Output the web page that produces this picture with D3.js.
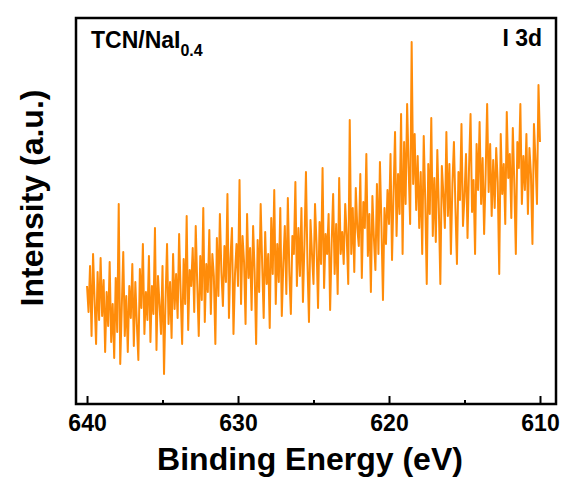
<!DOCTYPE html>
<html>
<head>
<meta charset="utf-8">
<script src="https://cdn.jsdelivr.net/npm/d3@7"></script>
<style>
  body { margin: 0; background: #fff; }
  text { font-family: "Liberation Sans", Arial, sans-serif; font-weight: bold; }
</style>
</head>
<body>
<svg width="568" height="482"></svg>
<script>
// binding energy from 640 eV down to 610 eV, step 0.1 eV
let startEnergy = 640;
let stepEnergy = -0.1;

// intensity (a.u.)
let intensity = [
  118, 92, 138, 68, 150, 104, 60, 132, 84, 146,
  88, 124, 52, 112, 78, 142, 62, 100, 46, 126,
  72, 200, 40, 96, 152, 68, 108, 52, 118, 86,
  140, 58, 122, 80, 44, 135, 96, 160, 70, 112,
  84, 148, 62, 118, 90, 176, 54, 128, 100, 70,
  138, 30, 104, 160, 80, 122, 66, 150, 95, 130,
  86, 170, 112, 60, 145, 100, 188, 74, 134, 118,
  156, 92, 178, 120, 68, 148, 104, 196, 82, 140,
  112, 174, 90, 150, 128, 60, 166, 108, 190, 132,
  98, 158, 122, 210, 86, 146, 176, 70, 130, 160,
  118, 224, 100, 168, 142, 80, 190, 126, 156, 94,
  178, 132, 60, 164, 112, 200, 140, 86, 172, 120,
  150, 76, 186, 130, 214, 100, 160, 122, 196, 88,
  140, 178, 110, 206, 132, 90, 168, 150, 222, 118,
  176, 128, 196, 102, 160, 232, 140, 82, 184, 150,
  120, 200, 160, 96, 182, 140, 236, 116, 170, 150,
  190, 94, 160, 210, 130, 180, 110, 226, 150, 172,
  140, 200, 168, 120, 284, 150, 196, 132, 216, 176,
  158, 230, 126, 202, 176, 250, 148, 190, 112, 208,
  166, 134, 220, 150, 242, 178, 104, 196, 160, 214,
  180, 250, 144, 210, 272, 168, 230, 190, 290, 150,
  262, 200, 300, 236, 180, 362, 220, 270, 194, 248,
  176, 232, 150, 268, 204, 120, 240, 190, 286, 168,
  226, 162, 254, 196, 120, 238, 210, 176, 272, 188,
  240, 150, 220, 262, 196, 140, 232, 204, 280, 178,
  208, 250, 166, 236, 290, 192, 224, 150, 260, 214,
  282, 200, 246, 170, 230, 300, 212, 260, 188, 244,
  196, 256, 222, 130, 270, 210, 240, 180, 292, 226,
  250, 186, 276, 220, 150, 262, 236, 300, 200, 248,
  214, 270, 190, 256, 230, 160, 280, 244, 200, 319,
  262
];

let majorTicks = [640, 630, 620, 610];
let minorTicks = [635, 625, 615];

let svg = d3.select("svg");

let gauche = 76, droite = 556, haut = 18, bas = 404;

let x = d3.scaleLinear()
    .domain([640.73, 608.94])
    .range([gauche, droite]);

let y = d3.scaleLinear()
    .domain([0, 386])
    .range([bas, haut]);

let points = intensity.map((v, i) => ({ e: startEnergy + i * stepEnergy, v: v }));

// courbe
svg.append("path")
    .datum(points)
    .attr("fill", "none")
    .attr("stroke", "#ff8c0a")
    .attr("stroke-width", 2)
    .attr("stroke-linejoin", "round")
    .attr("d", d3.line().x(d => x(d.e)).y(d => y(d.v)));

// axe du bas (ticks vers l'intérieur)
svg.append("g")
    .attr("transform", `translate(0,${bas})`)
    .call(d3.axisBottom(x).tickValues(majorTicks).tickSize(-8).tickPadding(11).tickFormat(d3.format("d")))
    .call(g => g.select(".domain").remove())
    .call(g => g.selectAll("line").attr("stroke-width", 2))
    .call(g => g.selectAll("text").attr("font-size", 23).attr("font-family", "Liberation Sans, Arial, sans-serif").attr("font-weight", "bold").attr("fill", "#000"));

svg.append("g")
    .attr("transform", `translate(0,${bas})`)
    .call(d3.axisBottom(x).tickValues(minorTicks).tickSize(-4).tickFormat(""))
    .call(g => g.select(".domain").remove())
    .call(g => g.selectAll("line").attr("stroke-width", 2));

// cadre
svg.append("rect")
    .attr("x", gauche)
    .attr("y", haut)
    .attr("width", droite - gauche)
    .attr("height", bas - haut)
    .attr("fill", "none")
    .attr("stroke", "#000")
    .attr("stroke-width", 2.5);

// titres des axes
svg.append("text")
    .attr("x", 310)
    .attr("y", 470)
    .attr("text-anchor", "middle")
    .attr("font-size", 32)
    .text("Binding Energy (eV)");

svg.append("text")
    .attr("transform", "translate(43,198) rotate(-90)")
    .attr("text-anchor", "middle")
    .attr("font-size", 32)
    .text("Intensity (a.u.)");

// étiquettes
let label = svg.append("text")
    .attr("x", 91)
    .attr("y", 48)
    .attr("font-size", 23)
    .text("TCN/NaI");
label.append("tspan")
    .attr("dy", 8)
    .attr("font-size", 16)
    .text("0.4");

svg.append("text")
    .attr("x", 542)
    .attr("y", 46)
    .attr("text-anchor", "end")
    .attr("font-size", 23)
    .text("I 3d");
</script>
</body>
</html>
